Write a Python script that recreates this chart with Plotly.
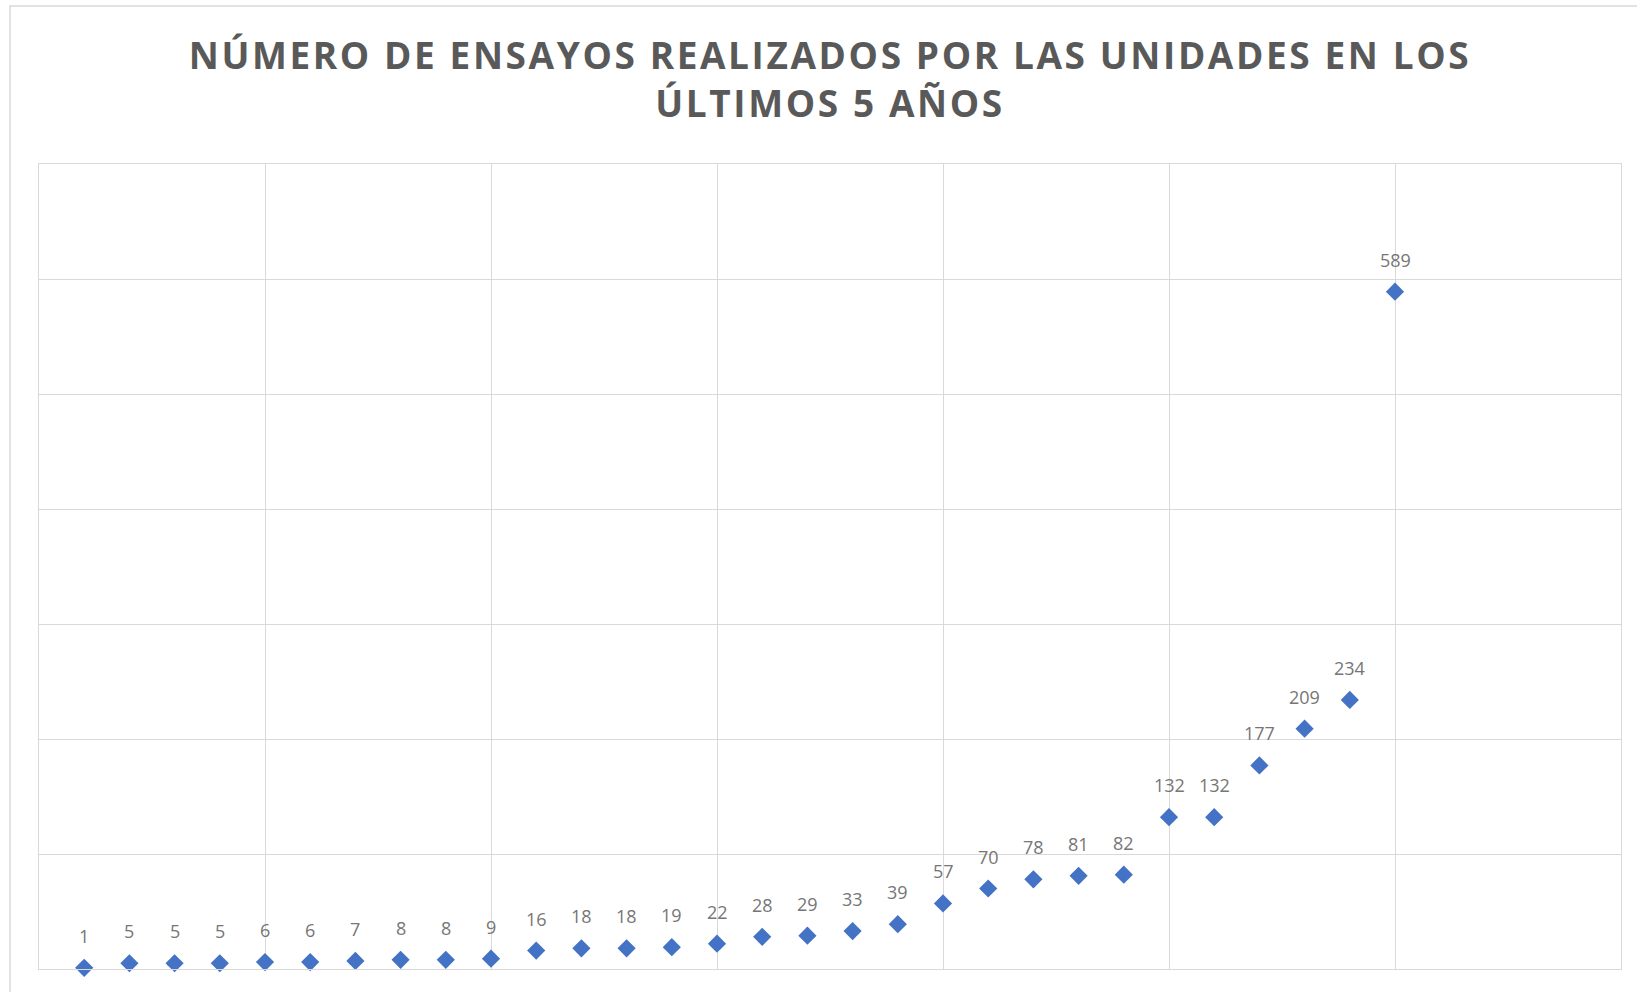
import plotly.graph_objects as go

# Data
unidades = list(range(1, 31))
ensayos = [1, 5, 5, 5, 6, 6, 7, 8, 8, 9, 16, 18, 18, 19, 22, 28, 29, 33, 39,
           57, 70, 78, 81, 82, 132, 132, 177, 209, 234, 589]
titulo = "NÚMERO DE ENSAYOS REALIZADOS POR LAS UNIDADES EN LOS<br>ÚLTIMOS 5 AÑOS"

W, H = 1637, 992
ML, MR, MT, MB = 39, 16, 164, 23

fig = go.Figure()
fig.add_trace(go.Scatter(
    x=unidades, y=ensayos,
    mode="markers",
    marker=dict(symbol="diamond", size=14, color="#4472C4"),
    cliponaxis=False,
    showlegend=False,
))

for xv, yv in zip(unidades, ensayos):
    fig.add_annotation(x=xv, y=yv, xref="x", yref="y", text=str(yv), showarrow=False,
                       yshift=32, xanchor="center", yanchor="middle",
                       font=dict(family="Open Sans, Calibri, sans-serif", size=18, color="#767676"))

grid = "#D9D9D9"
fig.update_xaxes(range=[0, 35], dtick=5, tick0=0, showgrid=True, gridcolor=grid, gridwidth=1,
                 showticklabels=False, ticks="", zeroline=False,
                 showline=True, linecolor=grid, linewidth=1, mirror=True)
fig.update_yaxes(range=[0, 700], dtick=100, tick0=0, showgrid=True, gridcolor=grid, gridwidth=1,
                 showticklabels=False, ticks="", zeroline=False,
                 showline=True, linecolor=grid, linewidth=1, mirror=True)

pw = W - ML - MR
ph = H - MT - MB
# outer chart border (in paper coords)
x0 = (10 - ML) / pw
x1 = (W + 10 - ML) / pw
y1 = (H - 6 - MB) / ph
y0 = (-10 - MB) / ph
fig.add_shape(type="rect", xref="paper", yref="paper", x0=x0, x1=x1, y0=y0, y1=y1,
              line=dict(color="#D9D9D9", width=1.5), fillcolor="rgba(0,0,0,0)", layer="below")

fig.update_layout(
    width=W, height=H,
    margin=dict(l=ML, r=MR, t=MT, b=MB),
    paper_bgcolor="white", plot_bgcolor="white",
    title=dict(text="<b>" + titulo + "</b>", x=0.5, xref="paper", xanchor="center",
               y=1 - 69 / H, yanchor="middle",
               font=dict(family="Open Sans, sans-serif", size=37, color="#595959")),
)

post = """
document.body.style.margin = '0';
document.body.style.overflow = 'hidden';
var t = document.querySelectorAll('.gtitle');
t.forEach(function(el){ el.style.letterSpacing = '2.6px'; });
"""

fig.write_html("out.html", post_script=post, config={"displayModeBar": False})
